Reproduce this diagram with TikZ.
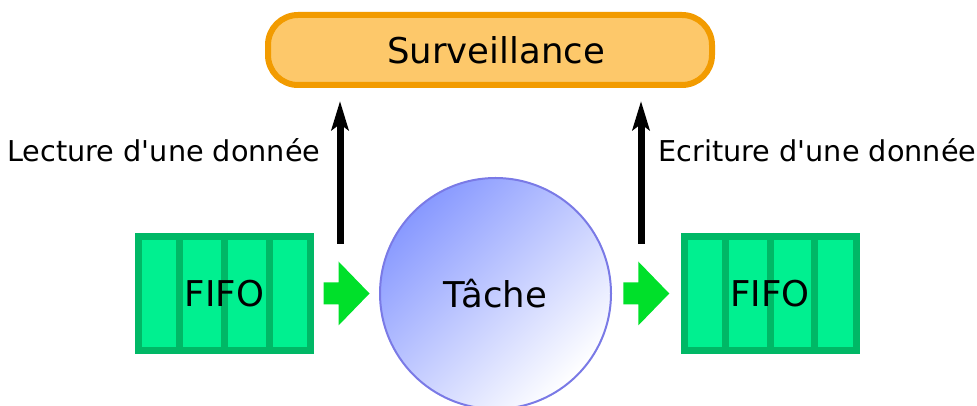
\documentclass[tikz,border=0pt]{standalone}
\usepackage{fontspec}
\setmainfont{DejaVu Sans}
\usepackage{textcomp}
\usetikzlibrary{arrows.meta, positioning, calc}

\definecolor{survFill}{HTML}{FDC86A}
\definecolor{survLine}{HTML}{F29B00}
\definecolor{fifoFill}{HTML}{00F090}
\definecolor{fifoLine}{HTML}{00B866}
\definecolor{flowGreen}{HTML}{00E02A}
\definecolor{taskLine}{HTML}{7A7AE6}
\definecolor{taskDark}{HTML}{8899FF}

\begin{document}
\begin{tikzpicture}[
    x=1pt, y=1pt,
    bigtext/.style={font=\fontsize{35.5}{41}\selectfont},
    labeltext/.style={font=\fontsize{28.7}{34}\selectfont},
    survbox/.style={draw=survLine, fill=survFill, line width=6pt,
        rounded corners=30pt, minimum width=444pt, minimum height=70pt,
        inner sep=0pt, bigtext},
    fifobox/.style={draw=fifoLine, fill=fifoFill, line width=7pt,
        minimum width=172pt, minimum height=114pt, inner sep=0pt, bigtext},
    taskcircle/.style={circle, draw=taskLine, line width=2pt,
        top color=taskDark, bottom color=white, shading angle=45,
        minimum size=231pt, inner sep=0pt, bigtext},
    readarr/.style={-{Stealth[length=29pt, width=17pt, inset=6pt]},
        line width=7pt, black, shorten >=13pt},
    flow/.style={fill=flowGreen},
]
    \useasboundingbox (0,0) rectangle (977,406);

    % Monitor
    \node[survbox] (surv) at (490,356) {\hspace{12pt}Surveillance};

    % Task and queues
    \node[taskcircle] (tache) at (495.5,112.5) {T\^ache};
    \node[fifobox] (fifoIn) at (224.5,112.5) {};
    \node[fifobox] (fifoOut) at (770,112.5) {};

    % Queue cells
    \foreach \f in {fifoIn, fifoOut} {
        \foreach \k in {1,2,3} {
            \draw[fifoLine, line width=7pt]
                ($(\f.north west)!\k/4!(\f.north east)$) --
                ($(\f.south west)!\k/4!(\f.south east)$);
        }
        \node[bigtext] at (\f) {FIFO};
    }

    % Flow arrows
    \foreach \a/\b [count=\i] in {fifoIn/tache, tache/fifoOut} {
        \coordinate (m\i) at ($(\a.east)!0.5!(\b.west)$);
        \fill[flow] ($(m\i)+(-23,11)$) -- ($(m\i)+(-8,11)$)
            -- ($(m\i)+(-8,32)$) -- ($(m\i)+(23,0)$)
            -- ($(m\i)+(-8,-32)$) -- ($(m\i)+(-8,-11)$)
            -- ($(m\i)+(-23,-11)$) -- cycle;
    }

    % Monitoring arrows
    \coordinate (rdStart) at (340,162);
    \coordinate (wrStart) at (641,162);
    \draw[readarr] (rdStart) -- (rdStart |- surv.south);
    \draw[readarr] (wrStart) -- (wrStart |- surv.south);

    % Labels
    \node[labeltext, anchor=east] (lblRead) at (324,256)
        {Lecture d\textquotesingle une donnée};
    \node[labeltext, anchor=west] (lblWrite) at (655,256)
        {Ecriture d\textquotesingle une donnée};
\end{tikzpicture}
\end{document}
